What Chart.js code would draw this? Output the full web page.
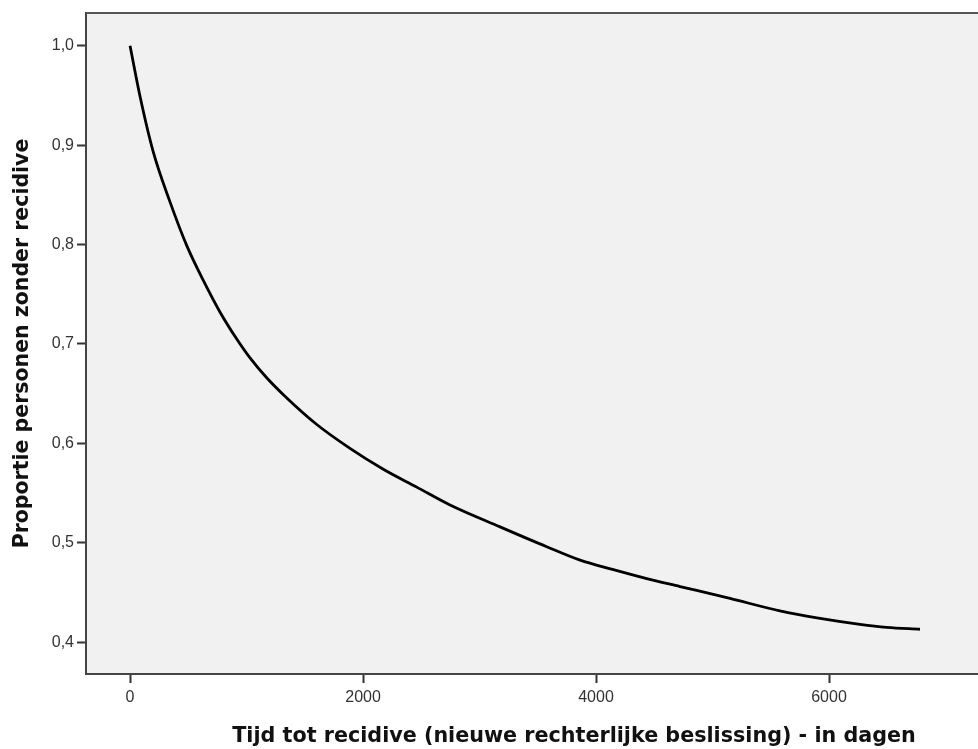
<!DOCTYPE html>
<html>
<head>
<meta charset="utf-8">
<script src="https://cdn.jsdelivr.net/npm/chart.js@4"></script>
<style>
  body { margin: 0; background: #fff; }
  #wrap { width: 978px; height: 749px; overflow: hidden; }
</style>
</head>
<body>
<div id="wrap"><canvas id="chart" width="1062" height="749"></canvas></div>
<script>
var days = [0, 86, 200, 343, 487, 629, 773, 916, 1030, 1173, 1316, 1603, 1888, 2174, 2461, 2747, 3176, 3577, 3863, 4149, 4435, 4721, 5150, 5579, 5923, 6266, 6495, 6781];
var proportion = [1.0, 0.949, 0.893, 0.843, 0.799, 0.764, 0.732, 0.705, 0.686, 0.666, 0.649, 0.619, 0.595, 0.574, 0.556, 0.538, 0.516, 0.496, 0.4825, 0.473, 0.464, 0.456, 0.444, 0.4315, 0.424, 0.418, 0.415, 0.413];
var xTicks = [0, 2000, 4000, 6000];
var yTicks = [0.4, 0.5, 0.6, 0.7, 0.8, 0.9, 1.0];

var tickFont = "'Liberation Sans', Arial, sans-serif";
var titleFont = "'DejaVu Sans', Verdana, sans-serif";

var plotArea = {
    id: 'plotArea',
    beforeDraw: function (chart) {
        var a = chart.chartArea, c = chart.ctx;
        c.save();
        c.fillStyle = '#f0f1f0';
        c.fillRect(a.left, a.top, a.right - a.left, a.bottom - a.top);
        c.restore();
    },
    afterDraw: function (chart) {
        var a = chart.chartArea, c = chart.ctx;
        c.save();
        c.strokeStyle = '#555';
        c.lineWidth = 2;
        c.beginPath();
        c.moveTo(a.left, a.top);
        c.lineTo(a.right, a.top);
        c.stroke();
        c.restore();
    }
};

window.onload = function () {
    var ctx = document.getElementById('chart');
    var points = days.map(function (d, i) { return { x: d, y: proportion[i] }; });

    new Chart(ctx, {
        type: 'line',
        data: {
            datasets: [{
                data: points,
                borderColor: '#000',
                borderWidth: 2.8,
                pointRadius: 0,
                cubicInterpolationMode: 'monotone',
                fill: false
            }]
        },
        plugins: [plotArea],
        options: {
            responsive: false,
            animation: false,
            layout: { padding: { top: 13, right: 0, left: 0, bottom: 0 } },
            plugins: {
                legend: { display: false },
                tooltip: { enabled: false }
            },
            scales: {
                x: {
                    type: 'linear',
                    min: -378,
                    max: 8000,
                    afterBuildTicks: function (s) { s.ticks = xTicks.map(function (v) { return { value: v }; }); },
                    afterFit: function (s) { s.height = 75; },
                    grid: { drawOnChartArea: false, tickLength: 9, tickColor: '#333', tickWidth: 2 },
                    border: { color: '#444', width: 2 },
                    ticks: {
                        color: '#333',
                        padding: 5,
                        maxRotation: 0,
                        font: { family: tickFont, size: 16 },
                        callback: function (v) { return String(v); }
                    },
                    title: {
                        display: true,
                        text: 'Tijd tot recidive (nieuwe rechterlijke beslissing) - in dagen',
                        color: '#111',
                        padding: 0,
                        font: { family: titleFont, size: 20.7, weight: 'bold' }
                    }
                },
                y: {
                    min: 0.368,
                    max: 1.033,
                    afterBuildTicks: function (s) { s.ticks = yTicks.map(function (v) { return { value: v }; }); },
                    afterFit: function (s) { s.width = 86; },
                    grid: { drawOnChartArea: false, tickLength: 9, tickColor: '#333', tickWidth: 2 },
                    border: { color: '#444', width: 2 },
                    ticks: {
                        color: '#333',
                        padding: 3,
                        font: { family: tickFont, size: 16 },
                        callback: function (v) { return v.toFixed(1).replace('.', ','); }
                    },
                    title: {
                        display: true,
                        text: 'Proportie personen zonder recidive',
                        color: '#111',
                        padding: { top: 10, bottom: 0 },
                        font: { family: titleFont, size: 20.5, weight: 'bold' }
                    }
                }
            }
        }
    });
};
</script>
</body>
</html>
